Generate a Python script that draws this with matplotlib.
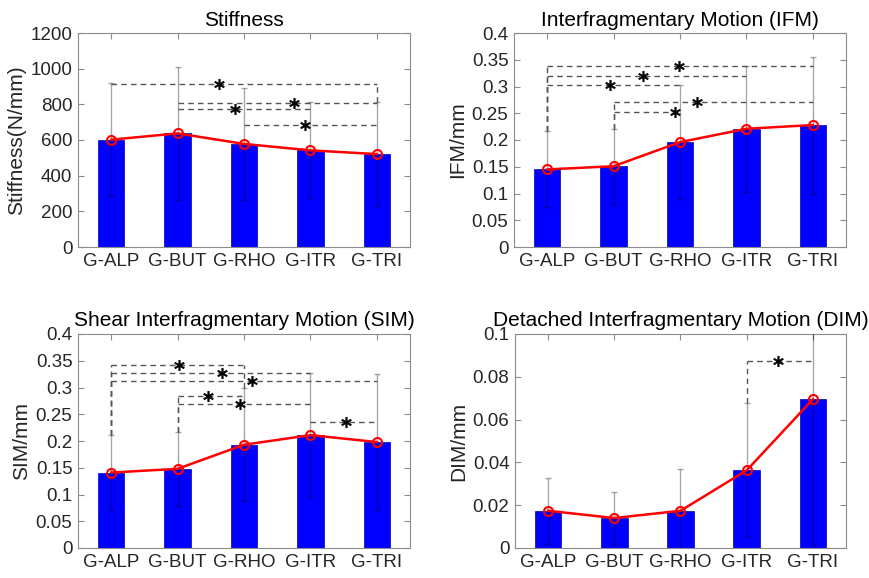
import matplotlib
matplotlib.use("Agg")
import matplotlib.pyplot as plt
import numpy as np

plt.rcParams['font.family'] = ['Liberation Sans', 'DejaVu Sans']

groups = ["G-ALP", "G-BUT", "G-RHO", "G-ITR", "G-TRI"]

# Stiffness
stiff_mean = [602, 637, 578, 542, 521]
stiff_sd = [316, 375, 315, 270, 293]
stiff_pairs = [(1, 5), (2, 5), (2, 4), (3, 5)]
stiff_levels = [916, 809, 774, 682]
stiff_star_x = [2.63, 3.75, 2.87, 3.92]

# IFM
ifm_mean = [0.145, 0.151, 0.196, 0.221, 0.228]
ifm_sd = [0.071, 0.070, 0.107, 0.118, 0.128]
ifm_pairs = [(1, 5), (1, 4), (1, 3), (2, 5), (2, 3)]
ifm_levels = [0.339, 0.320, 0.302, 0.271, 0.253]
ifm_star_x = [2.98, 2.44, 1.94, 3.25, 2.93]

# SIM
sim_mean = [0.141, 0.148, 0.193, 0.211, 0.198]
sim_sd = [0.070, 0.069, 0.106, 0.116, 0.127]
sim_pairs = [(1, 3), (1, 4), (1, 5), (2, 3), (2, 4), (4, 5)]
sim_levels = [0.342, 0.327, 0.313, 0.285, 0.269, 0.236]
sim_star_x = [2.02, 2.67, 3.12, 2.46, 2.94, 4.54]

# DIM
dim_mean = [0.0174, 0.0140, 0.0174, 0.0363, 0.0695]
dim_sd = [0.0155, 0.0123, 0.0195, 0.0313, 0.068]
dim_pairs = [(4, 5)]
dim_levels = [0.0872]
dim_star_x = [4.47]

panels = [
    dict(title="Stiffness", ylabel="Stiffness(N/mm)", mean=stiff_mean, sd=stiff_sd,
         pairs=stiff_pairs, levels=stiff_levels, starx=stiff_star_x,
         ylim=(0, 1200), yticks=[0, 200, 400, 600, 800, 1000, 1200],
         yticklabels=["0", "200", "400", "600", "800", "1000", "1200"]),
    dict(title="Interfragmentary Motion (IFM)", ylabel="IFM/mm", mean=ifm_mean, sd=ifm_sd,
         pairs=ifm_pairs, levels=ifm_levels, starx=ifm_star_x,
         ylim=(0, 0.4), yticks=[0, 0.05, 0.1, 0.15, 0.2, 0.25, 0.3, 0.35, 0.4],
         yticklabels=["0", "0.05", "0.1", "0.15", "0.2", "0.25", "0.3", "0.35", "0.4"]),
    dict(title="Shear Interfragmentary Motion (SIM)", ylabel="SIM/mm", mean=sim_mean, sd=sim_sd,
         pairs=sim_pairs, levels=sim_levels, starx=sim_star_x,
         ylim=(0, 0.4), yticks=[0, 0.05, 0.1, 0.15, 0.2, 0.25, 0.3, 0.35, 0.4],
         yticklabels=["0", "0.05", "0.1", "0.15", "0.2", "0.25", "0.3", "0.35", "0.4"]),
    dict(title="Detached Interfragmentary Motion (DIM)", ylabel="DIM/mm", mean=dim_mean, sd=dim_sd,
         pairs=dim_pairs, levels=dim_levels, starx=dim_star_x,
         ylim=(0, 0.1), yticks=[0, 0.02, 0.04, 0.06, 0.08, 0.1],
         yticklabels=["0", "0.02", "0.04", "0.06", "0.08", "0.1"]),
]

W, H = 870, 578
fig = plt.figure(figsize=(W / 100, H / 100), dpi=100)
rects = [(78, 33, 410, 247), (514, 33, 846, 247), (78, 334, 410, 548), (515, 334, 846, 548)]

x = np.arange(1, len(groups) + 1)
spine_c = '#8c8c8c'
text_c = '#262626'

for i, (p, (x0, y0, x1, y1)) in enumerate(zip(panels, rects)):
    ax = fig.add_axes([x0 / W, 1 - y1 / H, (x1 - x0) / W, (y1 - y0) / H])
    mean = np.array(p['mean'])
    sd = np.array(p['sd'])
    ax.bar(x, mean, width=0.4, color='#0000ff', edgecolor='#0000b0', linewidth=0.5, zorder=2)
    ax.errorbar(x, mean, yerr=sd, fmt='none', ecolor='black', alpha=0.35,
                elinewidth=1.0, capsize=2.2, capthick=1.0, zorder=3)
    ax.plot(x, mean, color='red', linewidth=1.8, marker='o', markersize=6.5,
            markerfacecolor='none', markeredgecolor='red', markeredgewidth=1.5, zorder=5)
    tops = mean + sd
    for (a, b), lev, sx in zip(p['pairs'], p['levels'], p['starx']):
        ax.plot([a, b], [lev, lev], color='#555555', linestyle=(0, (4, 3)), linewidth=1.0, zorder=4)
        for g in (a, b):
            t = tops[g - 1]
            if lev > t:
                ax.plot([g, g], [t, lev], color='#555555', linestyle=(0, (4, 3)), linewidth=1.0, zorder=4)
        ax.plot([sx], [lev], linestyle='none', marker=r'$\ast$', markersize=7.5,
                color='black', markeredgewidth=0.5, zorder=6)
    ax.set_xlim(0.5, 5.5)
    ax.set_ylim(*p['ylim'])
    ax.set_xticks(x)
    ax.set_xticklabels(groups)
    ax.set_yticks(p['yticks'])
    ax.set_yticklabels(p['yticklabels'])
    ax.tick_params(direction='in', length=4, width=0.8, color=spine_c, labelcolor=text_c,
                   labelsize=13.5, top=True, right=True, pad=4)
    for s in ax.spines.values():
        s.set_color(spine_c)
        s.set_linewidth(0.8)
    ax.set_title(p['title'], fontsize=15, color='black', pad=6 if i >= 2 else 5)
    ax.set_ylabel(p['ylabel'], fontsize=15, color=text_c, labelpad=3)

fig.savefig("out.png", dpi=100)
